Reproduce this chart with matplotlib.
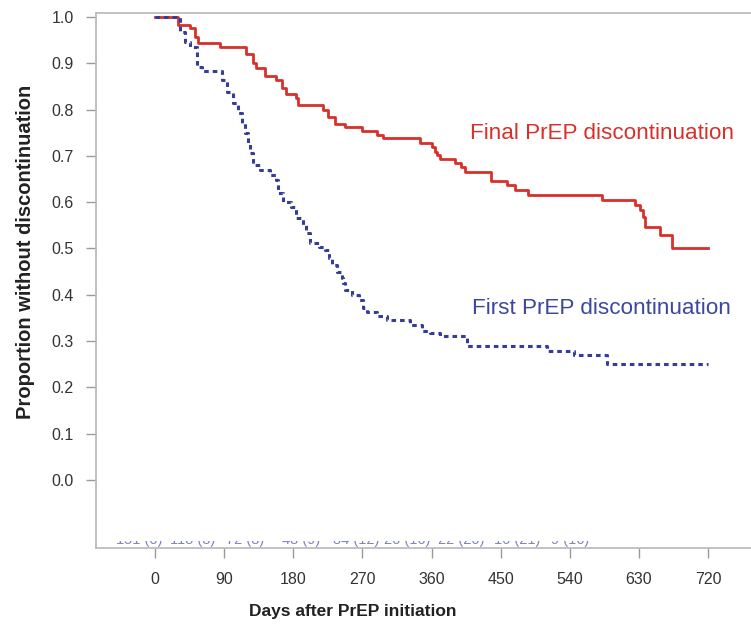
import matplotlib
matplotlib.use("Agg")
import matplotlib.pyplot as plt
from matplotlib.transforms import Bbox, TransformedBbox

# Kaplan-Meier style step data (days, proportion still on PrEP)
final_days = [0, 30, 46, 52, 56, 85, 119, 128, 132, 143, 158, 165, 171, 184, 186,
              219, 225, 234, 247, 269, 289, 297, 345, 360, 365, 367, 371, 391,
              399, 404, 438, 458, 469, 486, 582, 625, 632, 636, 638, 657, 673, 720]
final_surv = [1.0, 0.983, 0.976, 0.957, 0.944, 0.936, 0.920, 0.900, 0.889, 0.873,
              0.864, 0.846, 0.834, 0.824, 0.810, 0.800, 0.785, 0.769, 0.762, 0.754,
              0.745, 0.738, 0.727, 0.720, 0.709, 0.702, 0.693, 0.684, 0.675, 0.666,
              0.646, 0.637, 0.626, 0.616, 0.605, 0.594, 0.583, 0.569, 0.547, 0.529,
              0.502, 0.502]

first_days = [0, 33, 39, 46, 54, 55, 61, 87, 93, 102, 108, 113, 117, 121, 124, 128,
              137, 150, 158, 160, 166, 177, 184, 193, 197, 202, 213, 221, 226, 230,
              237, 243, 245, 247, 256, 265, 271, 276, 289, 302, 332, 347, 358, 371,
              406, 510, 545, 588, 720]
first_surv = [1.0, 0.968, 0.947, 0.936, 0.918, 0.893, 0.884, 0.864, 0.839, 0.814,
              0.792, 0.770, 0.749, 0.727, 0.706, 0.680, 0.670, 0.659, 0.648, 0.619,
              0.600, 0.590, 0.565, 0.551, 0.533, 0.511, 0.504, 0.497, 0.479, 0.464,
              0.450, 0.436, 0.425, 0.410, 0.400, 0.389, 0.371, 0.362, 0.355, 0.346,
              0.335, 0.322, 0.317, 0.310, 0.289, 0.279, 0.270, 0.251, 0.251]

x_ticks = [0, 90, 180, 270, 360, 450, 540, 630, 720]
y_ticks = [0.0, 0.1, 0.2, 0.3, 0.4, 0.5, 0.6, 0.7, 0.8, 0.9, 1.0]

# numbers at risk (mostly hidden behind the plot edge in the original)
at_risk = ["151 (0)", "118 (8)", "72 (8)", "48 (9)", "34 (12)",
           "26 (16)", "22 (20)", "16 (21)", "9 (16)"]
at_risk_pos = [0.066, 0.148, 0.227, 0.313, 0.397, 0.475, 0.557, 0.643, 0.724]

RED = "#d8302a"
BLUE = "#363d96"
GRID_GREY = "#b8b8b8"

plt.rcParams["font.family"] = ["Liberation Sans", "DejaVu Sans"]


def main() -> None:
    fig = plt.figure(figsize=(7.51, 6.28), dpi=100)
    ax = fig.add_axes([0.128, 0.1274, 0.872, 0.8519])

    ax.step(final_days, final_surv, where="post", color=RED, linewidth=2.0)
    ax.step(first_days, first_surv, where="post", color=BLUE, linewidth=2.2,
            linestyle=(0, (1.5, 1.3)))

    ax.text(410, 0.749, "Final PrEP discontinuation", color=RED, fontsize=16.2,
            va="center", ha="left")
    ax.text(413, 0.371, "First PrEP discontinuation", color="#3b47a0", fontsize=16.2,
            va="center", ha="left")

    # at-risk row, clipped so only a sliver shows above the bottom spine
    clip = TransformedBbox(Bbox([[0, 0], [1, 0.013]]), ax.transAxes)
    for label, pos in zip(at_risk, at_risk_pos):
        t = ax.text(pos, 0.002, label, transform=ax.transAxes, ha="center",
                    va="bottom", fontsize=10.5, color="#7f83c6")
        t.set_clip_on(True)
        t.set_clip_box(clip)

    ax.set_xlim(-76.8, 776)
    ax.set_ylim(-0.147, 1.0086)
    ax.set_xticks(x_ticks)
    ax.set_yticks(y_ticks)
    ax.set_yticklabels([f"{v:.1f}" for v in y_ticks])

    for side in ["top", "left", "bottom"]:
        ax.spines[side].set_color(GRID_GREY)
        ax.spines[side].set_linewidth(1.2)
    ax.spines["right"].set_visible(False)

    ax.tick_params(axis="both", direction="out", length=7, width=1,
                   color="#9a9a9a", labelcolor="#333333", labelsize=11.5)
    ax.tick_params(axis="y", pad=9)
    ax.tick_params(axis="x", pad=10)

    ax.set_xlabel("Days after PrEP initiation", fontsize=12.5, fontweight="bold",
                  color="#222222")
    ax.xaxis.set_label_coords(0.392, -0.104)
    ax.set_ylabel("Proportion without discontinuation", fontsize=14.5,
                  fontweight="bold", color="#222222")
    ax.yaxis.set_label_coords(-0.094, 0.553)

    fig.savefig("out.png", dpi=100)


if __name__ == "__main__":
    main()
